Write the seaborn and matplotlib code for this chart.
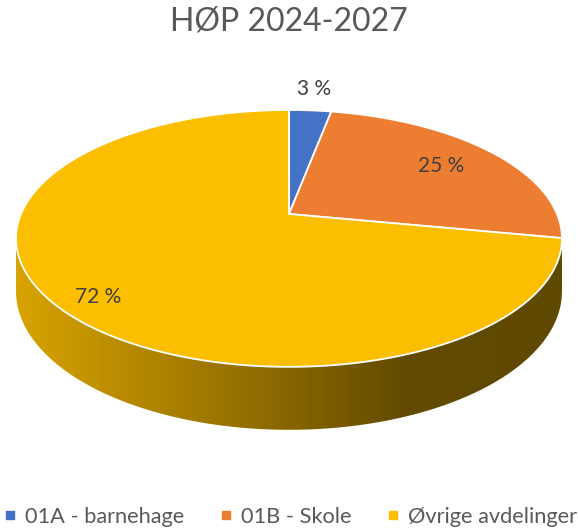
import numpy as np
import seaborn as sns
import matplotlib.pyplot as plt
from matplotlib.colors import LinearSegmentedColormap, to_rgb
from matplotlib.patches import Polygon
from matplotlib.lines import Line2D


# -------------------------
# Data
# -------------------------

categories = ["01A - barnehage", "01B - Skole", "Øvrige avdelinger"]
shares = [3, 25, 72]
labels = ["3 %", "25 %", "72 %"]
colors = ["#4472C4", "#ED7D31", "#FBBE00"]

title = "HØP 2024-2027"


# -------------------------
# Style
# -------------------------

sns.set_style("white")
plt.rcParams["font.family"] = ["Lato", "DejaVu Sans"]


# -------------------------
# 3D pie geometry (pixel space, perspective tilt)
# -------------------------

CX, CY = 289, 214          # pie apex on screen
RX, RY = 268, 123.8        # half width / depth scale
K = 0.19                   # perspective strength
DEPTH = 51                 # disk thickness
label_r = [1.25, 0.74, 0.83]
label_dy = [0, 0, 10]


def project(theta, z=0.0):
    # theta: clockwise from 12 o'clock, z: 0 top face, 1 bottom face
    u, v = np.sin(theta), np.cos(theta)
    w = 1 + K * v
    return CX + RX * u / w, CY - RY * v / w + DEPTH * z / w


def arc(t0, t1, z=0.0, n=200):
    t = np.linspace(t0, t1, n)
    x, y = project(t, z)
    return np.column_stack([x, y])


fig = plt.figure(figsize=(5.78, 5.31), dpi=100)
ax = fig.add_axes([0, 0, 1, 1])
ax.set_xlim(0, 578)
ax.set_ylim(531, 0)
ax.axis("off")

fracs = np.array(shares, dtype=float) / sum(shares)
edges = np.concatenate([[0], np.cumsum(fracs)]) * 2 * np.pi

# visible side band lies between the two silhouette angles
s0 = np.arccos(-K)
s1 = 2 * np.pi - s0

# side walls with a left-to-right darkening gradient
for i, col in enumerate(colors):
    a0, a1 = edges[i], edges[i + 1]
    lo, hi = max(a0, s0), min(a1, s1)
    if hi <= lo:
        continue
    pts = np.vstack([arc(lo, hi, 0), arc(hi, lo, 1)])
    poly = Polygon(pts, closed=True, facecolor="none", edgecolor="none")
    ax.add_patch(poly)
    base = np.array(to_rgb(col))
    cmap = LinearSegmentedColormap.from_list(
        f"side{i}",
        [(0.0, base * 0.86), (0.4, base * 0.6), (0.72, base * 0.39), (1.0, base * 0.38)],
    )
    grad = np.linspace(0, 1, 256).reshape(1, -1)
    x0, x1 = pts[:, 0].min(), pts[:, 0].max()
    y0, y1 = pts[:, 1].min(), pts[:, 1].max()
    im = ax.imshow(grad, cmap=cmap, extent=[x0, x1, y1, y0], aspect="auto", zorder=1)
    im.set_clip_path(poly)

# top faces
for i, col in enumerate(colors):
    a0, a1 = edges[i], edges[i + 1]
    pts = np.vstack([[CX, CY], arc(a0, a1, 0)])
    ax.add_patch(Polygon(pts, closed=True, facecolor=col, edgecolor="white",
                         linewidth=1.3, joinstyle="round", zorder=2))

# data labels
for i, lab in enumerate(labels):
    mid = (edges[i] + edges[i + 1]) / 2
    r = label_r[i]
    u, v = r * np.sin(mid), r * np.cos(mid)
    w = 1 + K * v
    ax.text(CX + RX * u / w, CY - RY * v / w + label_dy[i], lab,
            ha="center", va="center", fontsize=15, color="#404040", zorder=3)


# -------------------------
# Title and legend
# -------------------------

fig.text(0.5, 1 - 22 / 531, title, ha="center", va="center",
         fontsize=23, color="#595959")

handles = [Line2D([], [], marker="s", linestyle="none", markersize=6,
                  markerfacecolor=c, markeredgecolor=c) for c in colors]
fig.legend(handles, categories, loc="center", bbox_to_anchor=(0.5, 1 - 517 / 531),
           ncol=3, frameon=False, fontsize=15.7, labelcolor="#595959",
           handletextpad=0.3, columnspacing=1.5, handlelength=0.8)

fig.savefig("out.png", dpi=100)
plt.close(fig)
